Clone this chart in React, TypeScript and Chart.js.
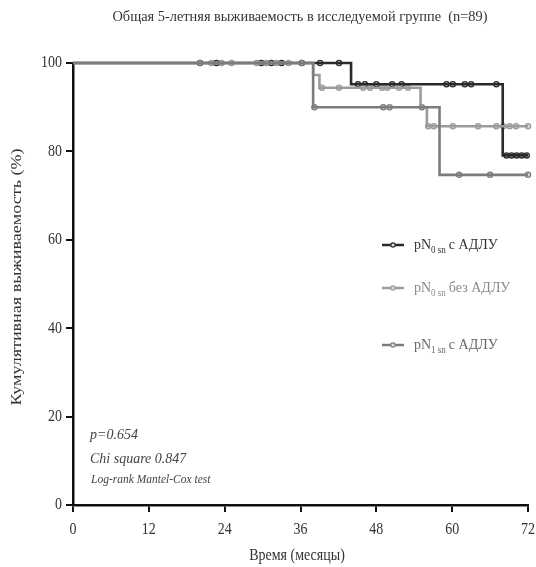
import React, { useEffect, useRef } from "react";
import { Chart, registerables } from "chart.js";
Chart.register(...registerables);

const titleText = "Общая 5-летняя выживаемость в исследуемой группе  (n=89)";
const xAxisTitle = "Время (месяцы)";
const yAxisTitle = "Кумулятивная выживаемость (%)";
const xTicks = [0, 12, 24, 36, 48, 60, 72];
const yTicks = [0, 20, 40, 60, 80, 100];

const seriesNames = ["с АДЛУ", "без АДЛУ", "с АДЛУ"];
const seriesSubs = ["0 sn", "0 sn", "1 sn"];

// Step points (time, survival %)
const blackTimes = [0, 44, 68, 72];
const blackSurv = [100, 95.2, 79.1, 79.1];
const blackCensor = [20.1, 22.7, 29.8, 31.4, 33, 36.2, 39.1, 42.1, 45.1, 46.2, 48, 50.5, 52, 59.1, 60.1, 62, 63, 67, 68.6, 69.4, 70.2, 71, 71.8];

const lightTimes = [0, 38, 39, 55, 56, 72];
const lightSurv = [100, 97.3, 94.4, 90, 85.7, 85.7];
const lightCensor = [21.9, 23.5, 25.1, 29.1, 30.6, 32.2, 34.1, 39.4, 42.1, 45.9, 47, 48.9, 49.7, 51.6, 53, 56.2, 57.1, 60.1, 64.1, 67, 68.1, 69.1, 70.1, 72];

const midTimes = [0, 38, 58, 72];
const midSurv = [100, 90, 74.7, 74.7];
const midCensor = [20.1, 36.2, 38.2, 49.1, 50.1, 55.2, 61.1, 66, 72];

const stepValue = (times: number[], surv: number[], t: number) => {
  let v = surv[0];
  for (let i = 0; i < times.length; i++) if (times[i] <= t) v = surv[i];
  return v;
};

const colBlack = "#2a2a2a";
const colLight = "#9b9b9b";
const colMid = "#7c7c7c";

const SERIF = "'Liberation Serif', 'DejaVu Serif', serif";
const SY = 1.22;

function drawStretched(ctx: CanvasRenderingContext2D, text: string, x: number, y: number, font: string, align: CanvasTextAlign, sy: number) {
  ctx.save();
  ctx.font = font;
  ctx.textAlign = align;
  ctx.textBaseline = "middle";
  ctx.translate(x, y);
  ctx.scale(1, sy);
  ctx.fillText(text, 0, 0);
  ctx.restore();
}

const textPlugin = {
  id: "texts",
  afterDraw(chart: any) {
    const ctx = chart.ctx as CanvasRenderingContext2D;
    const xs = chart.scales.x;
    const ys = chart.scales.y;
    ctx.save();
    ctx.fillStyle = "#333";

    // title, fitted to width
    ctx.font = `14px ${SERIF}`;
    const tw = ctx.measureText(titleText).width;
    ctx.save();
    ctx.translate(300, 17);
    ctx.scale(375 / tw, 1.05);
    ctx.textAlign = "center";
    ctx.textBaseline = "middle";
    ctx.fillText(titleText, 0, 0);
    ctx.restore();

    // tick labels
    ctx.fillStyle = "#333";
    xTicks.forEach((v) => {
      drawStretched(ctx, String(v), xs.getPixelForValue(v), 530, `14px ${SERIF}`, "center", SY);
    });
    yTicks.forEach((v) => {
      drawStretched(ctx, String(v), 62, ys.getPixelForValue(v), `14px ${SERIF}`, "right", SY);
    });

    // axis titles
    drawStretched(ctx, xAxisTitle, 297, 556, `14px ${SERIF}`, "center", SY);
    ctx.font = `14px ${SERIF}`;
    const yw = ctx.measureText(yAxisTitle).width;
    ctx.save();
    ctx.translate(17, 277);
    ctx.rotate(-Math.PI / 2);
    ctx.scale(257 / yw, 1);
    ctx.textAlign = "center";
    ctx.textBaseline = "middle";
    ctx.fillText(yAxisTitle, 0, 0);
    ctx.restore();

    // legend
    const rows = [245, 288, 345];
    const cols = [colBlack, colLight, colMid];
    const tcols = ["#333", "#8a8a8a", "#666"];
    rows.forEach((y, i) => {
      ctx.strokeStyle = cols[i];
      ctx.lineWidth = 2.5;
      ctx.beginPath();
      ctx.moveTo(382, y);
      ctx.lineTo(404, y);
      ctx.stroke();
      ctx.fillStyle = "#ddd";
      ctx.lineWidth = 1.2;
      ctx.beginPath();
      ctx.arc(393, y, 2.2, 0, Math.PI * 2);
      ctx.fill();
      ctx.stroke();
      ctx.fillStyle = tcols[i];
      let x = 414;
      drawStretched(ctx, "pN", x, y, `14px ${SERIF}`, "left", 1.1);
      ctx.font = `14px ${SERIF}`;
      x += ctx.measureText("pN").width;
      drawStretched(ctx, seriesSubs[i], x, y + 5, `9px ${SERIF}`, "left", 1.1);
      ctx.font = `9px ${SERIF}`;
      x += ctx.measureText(seriesSubs[i]).width + 3;
      drawStretched(ctx, seriesNames[i], x, y, `14px ${SERIF}`, "left", 1.1);
    });

    // stats
    ctx.fillStyle = "#444";
    drawStretched(ctx, "p=0.654", 90, 435, `italic 14px ${SERIF}`, "left", 1.1);
    drawStretched(ctx, "Chi square 0.847", 90, 459, `italic 14px ${SERIF}`, "left", 1.1);
    drawStretched(ctx, "Log-rank Mantel-Cox test", 91, 480, `italic 11.5px ${SERIF}`, "left", 1.1);
    ctx.restore();
  },
};

function stepDataset(times: number[], surv: number[], color: string) {
  return {
    type: "line" as const,
    data: times.map((t, i) => ({ x: t, y: surv[i] })),
    borderColor: color,
    borderWidth: 2.6,
    stepped: true,
    pointRadius: 0,
    fill: false,
    clip: false as any,
  };
}

function censorDataset(times: number[], surv: number[], censor: number[], color: string) {
  return {
    type: "scatter" as const,
    data: censor.map((t) => ({ x: t, y: stepValue(times, surv, t) })),
    borderColor: color,
    backgroundColor: "#d8d8d8",
    borderWidth: 1.3,
    pointRadius: 2.6,
    showLine: false,
    clip: false as any,
  };
}

export default function App() {
  const ref = useRef<HTMLCanvasElement>(null);
  useEffect(() => {
    document.body.style.margin = "0";
    const chart = new Chart(ref.current!, {
      type: "line",
      data: {
        datasets: [
          stepDataset(midTimes, midSurv, colMid),
          stepDataset(lightTimes, lightSurv, colLight),
          stepDataset(blackTimes, blackSurv, colBlack),
          censorDataset(midTimes, midSurv, midCensor, colMid),
          censorDataset(lightTimes, lightSurv, lightCensor, colLight),
          censorDataset(blackTimes, blackSurv, blackCensor, colBlack),
        ] as any,
      },
      options: {
        animation: false,
        responsive: false,
        layout: { padding: { top: 63, right: 8, left: 0, bottom: 0 } },
        plugins: { legend: { display: false }, tooltip: { enabled: false }, title: { display: false } },
        scales: {
          x: {
            type: "linear",
            min: 0,
            max: 72,
            afterBuildTicks: (s: any) => { s.ticks = xTicks.map((v) => ({ value: v })); },
            afterFit: (s: any) => { s.height = 62; s.paddingLeft = 0; s.paddingRight = 0; },
            ticks: { display: false },
            grid: { drawOnChartArea: false, drawTicks: true, tickLength: 7, color: "#111", lineWidth: 2 },
            border: { display: true, color: "#111", width: 2.5 },
          },
          y: {
            type: "linear",
            min: 0,
            max: 100,
            afterBuildTicks: (s: any) => { s.ticks = yTicks.map((v) => ({ value: v })); },
            afterFit: (s: any) => { s.width = 73; s.paddingTop = 0; s.paddingBottom = 0; },
            ticks: { display: false },
            grid: { drawOnChartArea: false, drawTicks: true, tickLength: 7, color: "#111", lineWidth: 2 },
            border: { display: true, color: "#111", width: 2.5 },
          },
        },
      },
      plugins: [textPlugin],
    } as any);
    return () => chart.destroy();
  }, []);
  return <canvas ref={ref} width={536} height={567} style={{ display: "block" }} />;
}
